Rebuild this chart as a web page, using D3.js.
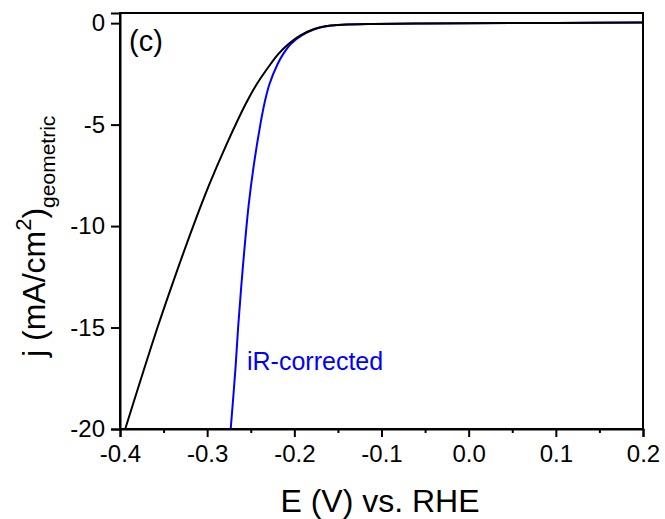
<!DOCTYPE html>
<html>
<head>
<meta charset="utf-8">
<script src="https://cdn.jsdelivr.net/npm/d3@7"></script>
<style>
  body { margin: 0; background: #fff; }
  svg text { font-family: "Liberation Sans", Arial, sans-serif; }
</style>
</head>
<body>
<svg id="chart" width="665" height="519"></svg>
<script>
/* data */
const xTicks = [-0.4, -0.3, -0.2, -0.1, 0.0, 0.1, 0.2];
const xTickLabels = ["-0.4", "-0.3", "-0.2", "-0.1", "0.0", "0.1", "0.2"];
const xMinorTicks = [-0.35, -0.25, -0.15, -0.05, 0.05, 0.15];
const yTicks = [0, -5, -10, -15, -20];
const yTickLabels = ["0", "-5", "-10", "-15", "-20"];

// measured curve (black)
const measuredE = [-0.394, -0.357, -0.337, -0.316, -0.298, -0.278, -0.256, -0.243, -0.227, -0.218, -0.206, -0.193, -0.178, -0.165, -0.145, -0.110, -0.060, 0.0, 0.1, 0.2];
const measuredJ = [-20, -15, -12.5, -10, -8, -6, -4, -3, -2, -1.5, -1, -0.6, -0.3, -0.15, -0.08, -0.04, -0.02, 0.0, 0.01, 0.03];

// iR-corrected curve (blue)
const correctedE = [-0.273, -0.2675, -0.2645, -0.259, -0.2525, -0.2465, -0.239, -0.2345, -0.2285, -0.219, -0.2125, -0.2035, -0.1915, -0.177, -0.163, -0.145, -0.110, -0.060, 0.0, 0.1, 0.2];
const correctedJ = [-20, -17, -15, -12, -9, -7, -5, -4, -3, -2, -1.5, -1, -0.6, -0.3, -0.15, -0.08, -0.04, -0.02, 0.0, 0.01, 0.03];

const margin = { top: 13, right: 22, bottom: 90, left: 120 },
  width = 665 - margin.left - margin.right,
  height = 519 - margin.top - margin.bottom;

const svg = d3.select("#chart");
const g = svg.append("g")
  .attr("transform", `translate(${margin.left},${margin.top})`);

const x = d3.scaleLinear().domain([-0.4, 0.2]).range([0, width]);
const y = d3.scaleLinear().domain([-20, 0.5]).range([height, 0]);

// curves
const line = d3.line()
  .x(d => x(d[0]))
  .y(d => y(d[1]))
  .curve(d3.curveCatmullRom.alpha(0.5));

g.append("path")
  .datum(d3.zip(correctedE, correctedJ))
  .attr("d", line)
  .attr("fill", "none")
  .attr("stroke", "#0000ff")
  .attr("stroke-width", 2);

g.append("path")
  .datum(d3.zip(measuredE, measuredJ))
  .attr("d", line)
  .attr("fill", "none")
  .attr("stroke", "#000")
  .attr("stroke-width", 2);

// frame
g.append("rect")
  .attr("width", width)
  .attr("height", height)
  .attr("fill", "none")
  .attr("stroke", "#000")
  .attr("stroke-width", 2);

// x axis
g.append("g")
  .attr("transform", `translate(0,${height})`)
  .call(d3.axisBottom(x)
    .tickValues(xTicks)
    .tickSize(8)
    .tickPadding(8)
    .tickFormat((d, i) => xTickLabels[i]));

g.append("g")
  .attr("transform", `translate(0,${height})`)
  .call(d3.axisBottom(x).tickValues(xMinorTicks).tickSize(4).tickFormat(""))
  .call(a => a.select(".domain").remove());

// y axis
g.append("g")
  .call(d3.axisLeft(y)
    .tickValues(yTicks)
    .tickSize(9)
    .tickPadding(6)
    .tickFormat((d, i) => yTickLabels[i]));

g.selectAll(".tick line").attr("stroke-width", 2);
g.selectAll(".domain").attr("stroke-width", 2);
g.selectAll(".tick text")
  .attr("font-size", 24)
  .attr("fill", "#000")
  .style("font-family", "'Liberation Sans', Arial, sans-serif");

// axis titles
svg.append("text")
  .attr("x", 380)
  .attr("y", 512)
  .attr("text-anchor", "middle")
  .attr("font-size", 32)
  .text("E (V) vs. RHE");

const yTitle = svg.append("text")
  .attr("transform", "translate(45,357) rotate(-90)")
  .attr("text-anchor", "start")
  .attr("font-size", 32);
yTitle.append("tspan").text("j (mA/cm");
yTitle.append("tspan").attr("font-size", 22).attr("dy", -14).text("2");
yTitle.append("tspan").attr("dy", 14).text(")");
yTitle.append("tspan").attr("font-size", 21).attr("dy", 10).text("geometric");

// panel label
svg.append("text")
  .attr("x", 129)
  .attr("y", 51)
  .attr("font-size", 29)
  .text("(c)");

// curve label
svg.append("text")
  .attr("x", 247)
  .attr("y", 370)
  .attr("font-size", 25)
  .attr("fill", "#0000ff")
  .text("iR-corrected");
</script>
</body>
</html>
